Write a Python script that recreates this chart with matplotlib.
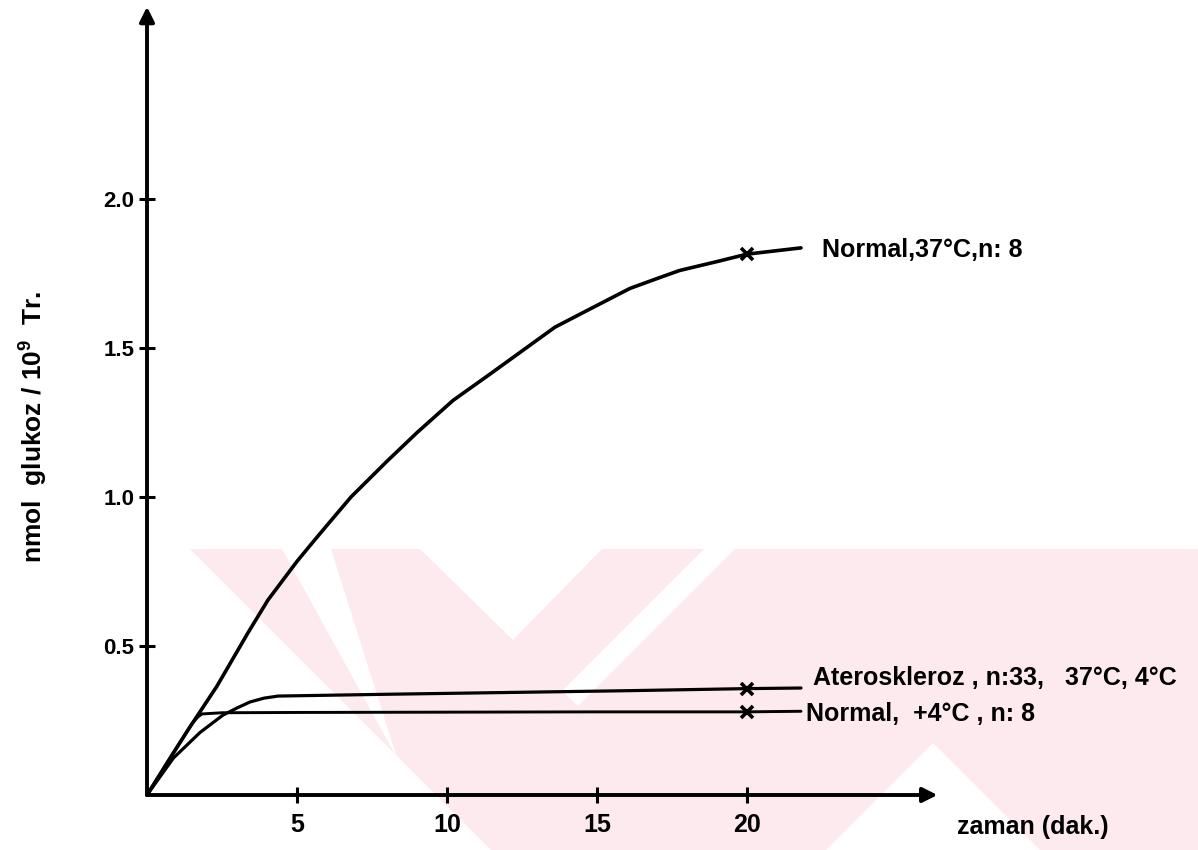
import matplotlib
matplotlib.use("Agg")
import matplotlib.pyplot as plt
from matplotlib.patches import Polygon

# ---------------- data ----------------
normal37_x = [0, 0.5, 1.0, 1.43, 2.33, 3.37, 4.03, 5.0, 5.5, 6.0, 6.8, 7.4, 8.0, 9.0, 10.2,
              11.4, 12.5, 13.6, 15.0, 16.1, 17.0, 17.75, 19.0, 20.0, 21.8]
normal37_y = [0, 0.08, 0.16, 0.228, 0.365, 0.545, 0.654, 0.784, 0.845, 0.905, 1.0, 1.06, 1.12,
              1.216, 1.324, 1.41, 1.49, 1.57, 1.643, 1.70, 1.733, 1.76, 1.79, 1.815, 1.836]

athero_x = [0, 0.88, 1.77, 2.53, 3.0, 3.43, 3.9, 4.37, 8, 12, 16, 20, 21.8]
athero_y = [0, 0.124, 0.21, 0.268, 0.292, 0.312, 0.325, 0.332, 0.338, 0.344, 0.35, 0.357, 0.359]

normal4_x = [0, 0.8, 1.5, 1.7, 1.83, 2.5, 5, 10, 15, 20, 21.8]
normal4_y = [0, 0.13, 0.24, 0.262, 0.272, 0.276, 0.277, 0.278, 0.279, 0.279, 0.281]

marker_x = [20, 20, 20]
marker_y = [1.815, 0.357, 0.279]

xticks = [5, 10, 15, 20]
xtick_labels = ["5", "10", "15", "20"]
yticks = [0.5, 1.0, 1.5, 2.0]
ytick_labels = ["0.5", "1.0", "1.5", "2.0"]

label_normal37 = "Normal,37°C,n: 8"
label_athero = "Ateroskleroz , n:33,   37°C, 4°C"
label_normal4 = "Normal,  +4°C , n: 8"
xlabel = "zaman (dak.)"
ylabel = "nmol  glukoz / 10$^{9}$  Tr."

# ---------------- style ----------------
plt.rcParams["font.family"] = ["Liberation Sans", "DejaVu Sans"]
plt.rcParams["font.weight"] = "bold"
plt.rcParams["mathtext.fontset"] = "custom"
plt.rcParams["mathtext.rm"] = "Liberation Sans:bold"
plt.rcParams["mathtext.it"] = "Liberation Sans:bold"
plt.rcParams["mathtext.bf"] = "Liberation Sans:bold"

W, H = 1198, 850
fig = plt.figure(figsize=(W / 100, H / 100), dpi=100)
fig.patch.set_facecolor("white")

def px(x, y):
    return (x / W, 1 - y / H)

# faint watermark (decoration), kept beneath the axes
pink = "#fdeaee"
base = [(190, 549), (1198, 549), (1198, 850), (491, 850)]
fig.patches.append(Polygon([px(*p) for p in base], closed=True, transform=fig.transFigure,
                           facecolor=pink, edgecolor="none", zorder=-10))
cutouts = [
    [(420, 549), (602, 549), (513, 640)],
    [(282, 549), (331, 549), (397, 758)],
    [(704, 549), (735, 549), (578, 706), (562, 691)],
    [(933, 743), (1040, 850), (826, 850)],
]
for c in cutouts:
    fig.patches.append(Polygon([px(*p) for p in c], closed=True, transform=fig.transFigure,
                               facecolor="white", edgecolor="none", zorder=-9))

# axes: origin at pixel (147, 795); 30 px per minute, 298 px per unit
x0, y0 = 147, 795
sx, sy = 30.0, 298.0
xmax, ymax = 26.6, 2.66
ax = fig.add_axes([x0 / W, (H - y0) / H, xmax * sx / W, ymax * sy / H])
ax.set_zorder(1)
ax.set_xlim(0, xmax)
ax.set_ylim(0, ymax)
ax.patch.set_alpha(0)
for s in ax.spines.values():
    s.set_visible(False)

lw = 2.6
ax.plot(normal37_x, normal37_y, color="black", lw=lw, clip_on=False,
        solid_capstyle="round", solid_joinstyle="round")
ax.plot(athero_x, athero_y, color="black", lw=lw - 0.3, clip_on=False,
        solid_capstyle="round", solid_joinstyle="round")
ax.plot(normal4_x, normal4_y, color="black", lw=lw - 0.5, clip_on=False,
        solid_capstyle="round", solid_joinstyle="round")
ax.plot(marker_x, marker_y, linestyle="none", marker="x", color="black",
        markersize=8, markeredgewidth=2.6, clip_on=False)

# axis arrows
arrow = dict(arrowstyle="-|>", color="black", lw=2.8, mutation_scale=22, shrinkA=0, shrinkB=0)
ax.annotate("", xy=(26.35, 0), xytext=(0, 0), arrowprops=arrow, annotation_clip=False)
ax.annotate("", xy=(0, 2.645), xytext=(0, 0), arrowprops=arrow, annotation_clip=False)

ax.set_xticks(xticks)
ax.set_xticklabels(xtick_labels)
ax.set_yticks(yticks)
ax.set_yticklabels(ytick_labels)
ax.tick_params(axis="both", direction="inout", length=12, width=2.2, color="black")
ax.tick_params(axis="x", labelsize=18, pad=7)
ax.tick_params(axis="y", labelsize=16, pad=3)
for t in ax.get_xticklabels() + ax.get_yticklabels():
    t.set_fontweight("bold")

# curve labels
ax.text(22.5, 1.805, label_normal37, fontsize=18, fontweight="bold", ha="left", va="baseline")
ax.text(22.2, 0.368, label_athero, fontsize=18, fontweight="bold", ha="left", va="baseline")
ax.text(21.95, 0.247, label_normal4, fontsize=18, fontweight="bold", ha="left", va="baseline")

# axis titles
ax.text(27.0, -0.107, xlabel, fontsize=18, fontweight="bold", ha="left", va="center")
fig.text(34 / W, 1 - 427 / H, ylabel, fontsize=19, fontweight="bold", rotation=90,
         ha="center", va="center")

fig.savefig("out.png", dpi=100, facecolor="white")
